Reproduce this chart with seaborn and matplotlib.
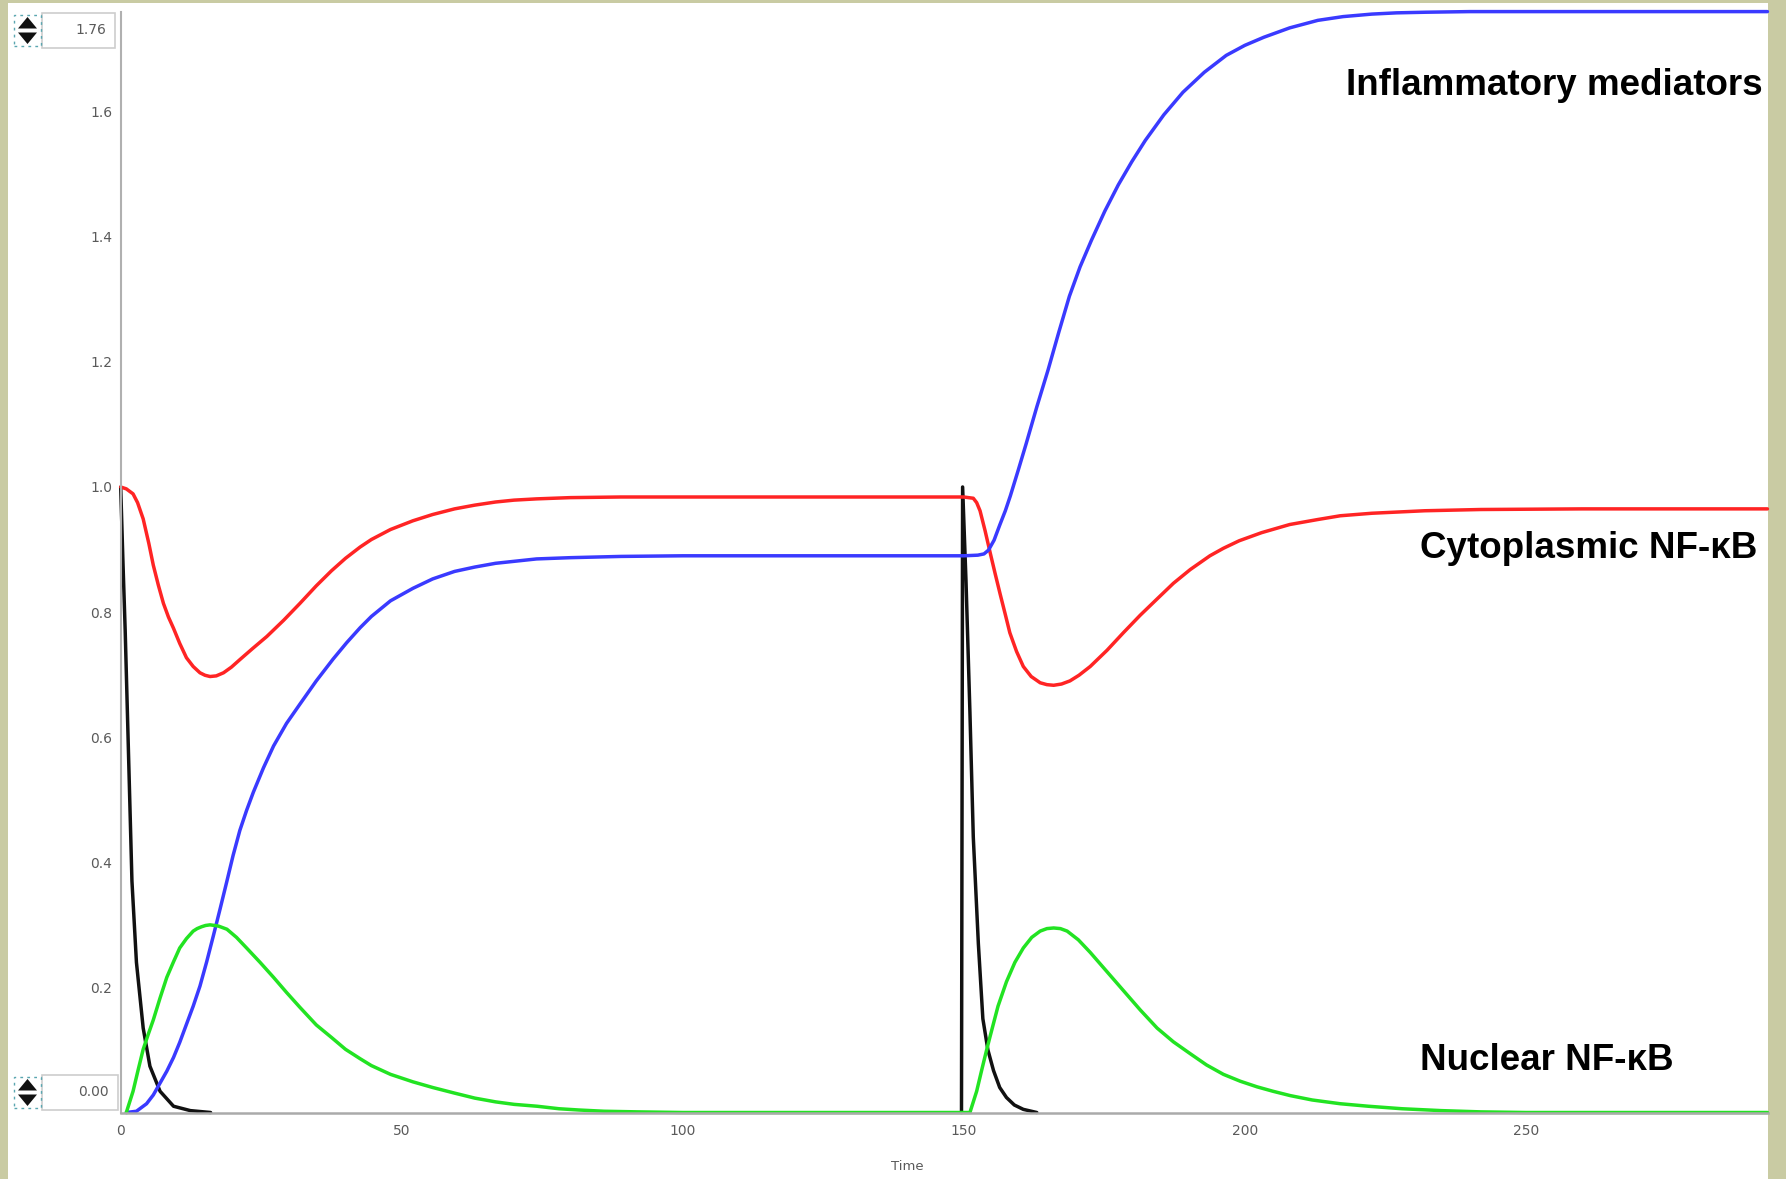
import matplotlib
matplotlib.use("Agg")
import matplotlib.pyplot as plt
import seaborn as sns
from matplotlib.patches import Rectangle, Polygon

# ---------------- simulated time courses ----------------
# Stimulus (two pulses, at t=0 and t=150)
stim_t1 = [0, 0.4, 0.8, 1.4, 2.0, 2.8, 4.0, 5.2, 7.0, 9.4, 12.4, 16.0]
stim_v1 = [1.0, 0.88, 0.77, 0.57, 0.37, 0.24, 0.135, 0.074, 0.034, 0.010, 0.003, 0.0]
stim_t2 = [149.6, 149.8, 150.4, 151.1, 151.7, 152.6, 153.4, 154.3, 155.3, 156.4,
           157.6, 159.0, 160.6, 163.0]
stim_v2 = [0.0, 1.0, 0.85, 0.64, 0.44, 0.27, 0.15, 0.10, 0.067, 0.04,
           0.024, 0.012, 0.005, 0.0]

# Cytoplasmic NF-kB
cyto_t = [0, 1, 2.2, 3.0, 4.0, 5.0, 5.8, 6.7, 7.6, 8.5, 9.4, 10.5, 11.7, 12.9, 14.1,
          15.0, 15.9, 17.0, 18.3, 19.7, 21.2, 23.5, 26.0, 29.0, 31.9, 34.8, 37.5, 40.0,
          42.6, 44.6, 48, 52, 55.5, 59.4, 63, 66.7, 70, 74, 80, 89, 100, 120, 140,
          150, 151.7, 152.3, 152.9, 153.8, 154.7, 155.6, 156.5, 157.4, 158.2, 159.4,
          160.6, 162.0, 163.6, 164.8, 166.0, 167.4, 168.9, 170.5, 172.5, 175.5, 178.4,
          181.4, 184.4, 187.3, 190.3, 193.8, 196.2, 199, 203, 208, 213, 217, 222.6,
          232, 242, 260, 280, 293]
cyto_v = [1.0, 0.997, 0.989, 0.975, 0.949, 0.91, 0.875, 0.843, 0.814, 0.792, 0.774,
          0.750, 0.727, 0.713, 0.703, 0.699, 0.697, 0.698, 0.703, 0.712, 0.724, 0.742,
          0.761, 0.787, 0.814, 0.842, 0.866, 0.886, 0.904, 0.916, 0.932, 0.946, 0.956,
          0.965, 0.971, 0.976, 0.979, 0.981, 0.983, 0.984, 0.984, 0.984, 0.984, 0.984,
          0.982, 0.975, 0.962, 0.93, 0.895, 0.861, 0.828, 0.796, 0.767, 0.737, 0.713,
          0.697, 0.687, 0.684, 0.683, 0.685, 0.690, 0.699, 0.713, 0.739, 0.767, 0.795,
          0.821, 0.846, 0.868, 0.890, 0.902, 0.914, 0.927, 0.940, 0.948, 0.954, 0.958,
          0.962, 0.964, 0.965, 0.965, 0.965]

# Inflammatory mediators
infl_t = [1, 2.8, 4.6, 5.8, 7.0, 8.2, 9.4, 10.5, 11.7, 12.9, 14.1, 15.3, 16.5, 17.7,
          18.9, 20.0, 21.2, 22.4, 23.6, 25.4, 27.2, 29.5, 31.9, 34.8, 37.8, 40.2,
          42.6, 44.6, 48, 52, 55.5, 59.4, 63, 66.7, 74, 80, 89, 100, 120, 140, 150,
          152.5, 153.6, 154.4, 155.4, 156.4, 157.4, 158.3, 159.7, 161.1, 163.0, 165.0,
          166.9, 168.8, 170.7, 172.7, 175.1, 177.5, 179.9, 182.3, 185.6, 189.0,
          192.8, 196.7, 200, 203.4, 208, 213, 217.5, 222.6, 227, 232.2, 240, 260,
          280, 293]
infl_v = [0.0, 0.002, 0.014, 0.028, 0.047, 0.066, 0.088, 0.112, 0.141, 0.170, 0.202,
          0.241, 0.283, 0.326, 0.370, 0.411, 0.451, 0.483, 0.512, 0.551, 0.586, 0.622,
          0.653, 0.690, 0.725, 0.751, 0.775, 0.793, 0.818, 0.838, 0.853, 0.865, 0.872,
          0.878, 0.885, 0.887, 0.889, 0.890, 0.890, 0.890, 0.890, 0.891, 0.893, 0.899,
          0.915, 0.939, 0.962, 0.986, 1.027, 1.069, 1.128, 1.187, 1.247, 1.305, 1.352,
          1.394, 1.441, 1.483, 1.520, 1.554, 1.595, 1.631, 1.663, 1.690, 1.706, 1.719,
          1.734, 1.746, 1.752, 1.756, 1.758, 1.759, 1.76, 1.76, 1.76, 1.76]

# Nuclear NF-kB
nuc_t = [1, 2.2, 3.1, 4.0, 4.9, 5.8, 7.0, 8.2, 9.4, 10.5, 11.7, 12.9, 13.6, 14.4,
         15.1, 15.9, 16.7, 17.4, 18.9, 20.6, 22.4, 24.8, 27.2, 29.5, 31.9, 34.8, 37.5,
         40, 42.6, 44.6, 48, 52, 55.5, 59.4, 63, 66.7, 70, 74.1, 78, 81.5, 86, 92, 100,
         120, 140, 151.1, 152.3, 153.2, 154.1, 154.7, 156.1, 157.6, 159.1, 160.6, 162.1,
         163.6, 164.8, 166.0, 167.2, 168.4, 170.4, 172.5, 175.4, 178.4, 181.4, 184.4,
         187.3, 190.3, 193.2, 196.2, 199.2, 202.2, 205, 208.1, 212, 217, 222, 228, 235,
         242, 250, 270, 293]
nuc_v = [0.0, 0.034, 0.068, 0.101, 0.125, 0.148, 0.183, 0.216, 0.241, 0.263, 0.278,
         0.290, 0.294, 0.297, 0.299, 0.300, 0.299, 0.298, 0.293, 0.280, 0.263, 0.240,
         0.216, 0.192, 0.168, 0.140, 0.120, 0.101, 0.086, 0.075, 0.061, 0.049, 0.040,
         0.031, 0.023, 0.017, 0.013, 0.010, 0.006, 0.004, 0.002, 0.001, 0.0, 0.0, 0.0,
         0.0, 0.034, 0.068, 0.101, 0.122, 0.170, 0.209, 0.240, 0.263, 0.280, 0.290,
         0.294, 0.295, 0.294, 0.290, 0.276, 0.256, 0.226, 0.195, 0.164, 0.135, 0.113,
         0.094, 0.076, 0.061, 0.050, 0.041, 0.034, 0.027, 0.020, 0.014, 0.010, 0.006,
         0.003, 0.001, 0.0, 0.0, 0.0]

x_ticks = [0, 50, 100, 150, 200, 250]
y_ticks = [0.2, 0.4, 0.6, 0.8, 1.0, 1.2, 1.4, 1.6]
y_min_label, y_max_label = "0.00", "1.76"

# ---------------- figure ----------------
W, H, DPI = 1786, 1179, 100
sns.set_theme(style="white")
plt.rcParams['font.family'] = ['DejaVu Sans']

fig = plt.figure(figsize=(W / DPI, H / DPI), dpi=DPI, facecolor='#c9cba3')


def fx(px):
    return px / W


def fy(py):
    return 1 - py / H


# white slide panel
fig.patches.append(Rectangle((fx(8), 0), fx(1768) - fx(8), fy(3), transform=fig.transFigure,
                             facecolor='white', edgecolor='none', zorder=-5))

ax = fig.add_axes([fx(120.7), fy(1112.5), fx(1768) - fx(120.7), fy(11.6) - fy(1112.5)])
ax.set_facecolor('white')

LW = 2.5
line_kw = dict(lw=LW, ax=ax, sort=False, clip_on=False)
sns.lineplot(x=stim_t1, y=stim_v1, color='#111111', **line_kw)
sns.lineplot(x=stim_t2, y=stim_v2, color='#111111', **line_kw)
sns.lineplot(x=cyto_t, y=cyto_v, color='#ff2424', **line_kw)
sns.lineplot(x=infl_t, y=infl_v, color='#3a3aff', **line_kw)
sns.lineplot(x=nuc_t, y=nuc_v, color='#22e322', **line_kw)

ax.set_xlim(0, 293.1)
ax.set_ylim(0, 1.76)
ax.set_xticks(x_ticks)
ax.set_xticklabels([str(v) for v in x_ticks])
ax.set_yticks(y_ticks + [1.76])
ax.set_yticklabels([f"{v:.1f}" for v in y_ticks] + [""])
ax.set_xlabel("")
ax.set_ylabel("")
ax.tick_params(axis='both', direction='in', length=6, width=1, color='#9a9a9a',
               labelsize=10, labelcolor='#5a5a5a')
ax.tick_params(axis='x', pad=8)
ax.tick_params(axis='y', pad=6)
for side in ('top', 'right'):
    ax.spines[side].set_visible(False)
ax.spines['left'].set_color('#b0b0b0')
ax.spines['left'].set_linewidth(1.5)
ax.spines['bottom'].set_color('#aaaaaa')
ax.spines['bottom'].set_linewidth(1.8)

fig.text(fx(907), fy(1166), "Time", ha='center', va='center', fontsize=9.5, color='#5a5a5a')


# range boxes with spinner icons
def range_box(x0, x1, y0, y1, text):
    fig.patches.append(Rectangle((fx(x0), fy(y1)), fx(x1) - fx(x0), fy(y0) - fy(y1),
                                 transform=fig.transFigure, facecolor='white',
                                 edgecolor='#cdcdcd', lw=1.2, zorder=2))
    fig.text(fx(x1 - 9), fy((y0 + y1) / 2), text, ha='right', va='center',
             fontsize=10, color='#5a5a5a')
    ix0, ix1 = 14, 41
    ym = (y0 + y1) / 2
    fig.patches.append(Rectangle((fx(ix0), fy(y1 - 2)), fx(ix1) - fx(ix0), fy(y0 + 2) - fy(y1 - 2),
                                 transform=fig.transFigure, facecolor='none',
                                 edgecolor='#5aa6b0', lw=1.0, ls=(0, (2, 3)), zorder=2))
    up = [(fx(ix0 + 4), fy(ym - 2)), (fx(ix1 - 4), fy(ym - 2)), (fx((ix0 + ix1) / 2), fy(y0 + 4))]
    dn = [(fx(ix0 + 4), fy(ym + 2)), (fx(ix1 - 4), fy(ym + 2)), (fx((ix0 + ix1) / 2), fy(y1 - 4))]
    for tri in (up, dn):
        fig.patches.append(Polygon(tri, closed=True, transform=fig.transFigure,
                                   facecolor='#111111', edgecolor='none', zorder=3))


range_box(42, 115, 13, 48, y_max_label)
range_box(42, 118, 1075, 1110, y_min_label)

# species labels
lab_kw = dict(fontsize=26.5, fontweight='bold', family=['Liberation Sans', 'DejaVu Sans'],
              color='black', ha='left', va='baseline')
fig.text(fx(1346), fy(95), "Inflammatory mediators", **lab_kw)
fig.text(fx(1420), fy(558), "Cytoplasmic NF-\u03baB", **lab_kw)
fig.text(fx(1420), fy(1069.5), "Nuclear NF-\u03baB", **lab_kw)

fig.savefig("out.png", dpi=DPI, facecolor=fig.get_facecolor())
